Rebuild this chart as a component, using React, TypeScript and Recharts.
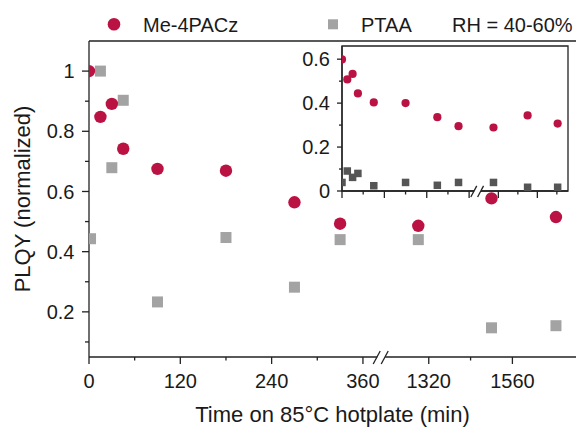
import React from "react";
import {
  CartesianGrid,
  ReferenceArea,
  ReferenceLine,
  Scatter,
  ScatterChart,
  XAxis,
  YAxis,
} from "recharts";

// time on hotplate (min), same sampling for both films
const timeMin = [0, 15, 30, 45, 90, 180, 270, 330, 1290, 1500, 1685];
const ptaaTimeMin = [2, 15, 30, 45, 90, 180, 270, 330, 1290, 1500, 1685];

// main plot: normalized PLQY
const mePlqyNorm = [1.0, 0.848, 0.891, 0.742, 0.675, 0.669, 0.564, 0.493, 0.486, 0.577, 0.515];
const ptaaPlqyNorm = [0.443, 1.0, 0.679, 0.903, 0.233, 0.447, 0.282, 0.44, 0.44, 0.147, 0.154];

// inset: absolute PLQY
const mePlqyAbs = [0.599, 0.508, 0.533, 0.444, 0.403, 0.4, 0.336, 0.295, 0.289, 0.344, 0.307];
const ptaaPlqyAbs = [0.039, 0.091, 0.062, 0.08, 0.024, 0.039, 0.026, 0.039, 0.039, 0.017, 0.017];

const xMajorTicks = [0, 120, 240, 360, 1320, 1560];
const xMinorTicks = [60, 180, 300, 1440];
const insetXMinorTicks = [60, 180, 300, 1440, 1680];
const yMajorTicks = [0.2, 0.4, 0.6, 0.8, 1];
const yMinorTicks = [0.1, 0.3, 0.5, 0.7, 0.9];
const insetYMajorTicks = [0, 0.2, 0.4, 0.6];
const insetYMinorTicks = [0.1, 0.3, 0.5];

const WINE = "#BA1343";
const GREY = "#A3A3A3";
const DARK_GREY = "#555555";
const INK = "#1a1a1a";
const AXIS = "#222222";
const FONT = "'Liberation Sans', Arial, sans-serif";

// broken time axis: 0..384 min at full scale, then 1320+ compressed
type Break = { at: number; start: number; scale: number };
const MAIN_BREAK: Break = { at: 384, start: 446.5, scale: 0.458 };
const INSET_BREAK: Break = { at: 384, start: 442.8, scale: 0.46 };

const toAxis = (b: Break, t: number) => (t <= b.at ? t : b.start + (t - 1320) * b.scale);
const fromAxis = (b: Break, v: number) =>
  v <= b.at + 0.5 ? Math.round(v) : Math.round(1320 + (v - b.start) / b.scale);

const xTicks = (b: Break, minor: number[]) =>
  [...xMajorTicks, ...minor].map((t) => toAxis(b, t)).concat(b.at).sort((p, q) => p - q);

const toPoints = (b: Break, times: number[], values: number[]) =>
  times.map((t, i) => ({ x: toAxis(b, t), y: values[i] }));

const isIn = (list: number[], v: number) => list.some((m) => Math.abs(m - v) < 1e-6);

const makeXTick =
  (b: Break, majorLen: number, minorLen: number, withLabels: boolean, s: number) => (props: any) => {
    const { x, y, payload } = props;
    const v = payload.value as number;
    if (Math.abs(v - b.at) < 1e-6) {
      return (
        <g>
          <rect x={x - 4 * s} y={y - 2} width={8 * s} height={4} fill="#fff" />
          <line x1={x - 8 * s} y1={y + 7 * s} x2={x - 1 * s} y2={y - 6 * s} stroke={AXIS} strokeWidth={1.3} />
          <line x1={x} y1={y + 7 * s} x2={x + 7 * s} y2={y - 6 * s} stroke={AXIS} strokeWidth={1.3} />
        </g>
      );
    }
    const t = fromAxis(b, v);
    const major = isIn(xMajorTicks, t);
    return (
      <g>
        <line x1={x} x2={x} y1={y} y2={y + (major ? majorLen : minorLen)} stroke={AXIS} strokeWidth={1.3} />
        {withLabels && major && (
          <text x={x} y={y + 31} textAnchor="middle" fontSize={20} fill={INK} fontFamily={FONT}>
            {t}
          </text>
        )}
      </g>
    );
  };

const makeYTick =
  (majors: number[], majorLen: number, minorLen: number, gap: number) => (props: any) => {
    const { x, y, payload } = props;
    const major = isIn(majors, payload.value);
    return (
      <g>
        <line x1={x} x2={x - (major ? majorLen : minorLen)} y1={y} y2={y} stroke={AXIS} strokeWidth={1.3} />
        {major && (
          <text x={x - gap} y={y} dy="0.36em" textAnchor="end" fontSize={20} fill={INK} fontFamily={FONT}>
            {String(payload.value)}
          </text>
        )}
      </g>
    );
  };

const wineDot = (r: number) => (p: any) => <circle cx={p.cx} cy={p.cy} r={r} fill={WINE} />;
const square = (size: number, color: string) => (p: any) =>
  <rect x={p.cx - size / 2} y={p.cy - size / 2} width={size} height={size} fill={color} />;

function YTitle(props: any) {
  const vb = props.viewBox ?? { x: 29, y: 41, width: 60, height: 316 };
  const cx = vb.x + 1;
  const cy = vb.y + vb.height / 2;
  return (
    <text x={cx} y={cy} transform={`rotate(-90, ${cx}, ${cy})`} textAnchor="middle" fontSize={22} fill={INK} fontFamily={FONT}>
      PLQY (normalized)
    </text>
  );
}

function XTitle(props: any) {
  const vb = props.viewBox ?? { x: 89, y: 357, width: 487, height: 30 };
  return (
    <text x={vb.x + vb.width / 2} y={vb.y + 64.7} textAnchor="middle" fontSize={22} fill={INK} fontFamily={FONT}>
      Time on 85°C hotplate (min)
    </text>
  );
}

function LegendRow() {
  return (
    <svg width={576} height={40} style={{ position: "absolute", left: 0, top: 0, pointerEvents: "none" }}>
      <circle cx={114} cy={24.3} r={6.3} fill={WINE} />
      <text x={143} y={31.7} fontSize={20} fill={INK} fontFamily={FONT}>Me-4PACz</text>
      <rect x={328} y={19.3} width={10} height={10} fill={GREY} />
      <text x={361} y={31.7} fontSize={20} fill={INK} fontFamily={FONT}>PTAA</text>
      <text x={452} y={31.7} fontSize={20} fill={INK} fontFamily={FONT}>RH = 40-60%</text>
    </svg>
  );
}

function Inset() {
  return (
    <div style={{ position: "absolute", left: 300, top: 40 }}>
      <ScatterChart width={272} height={164} margin={{ top: 6, right: 4, bottom: 3, left: 0 }}>
        <CartesianGrid horizontal={false} vertical={false} fill="#fff" />
        <XAxis
          type="number"
          dataKey="x"
          domain={[0, 640]}
          allowDataOverflow
          ticks={xTicks(INSET_BREAK, insetXMinorTicks)}
          interval={0}
          height={10}
          tickLine={false}
          tickSize={0}
          tickMargin={0}
          axisLine={{ stroke: AXIS, strokeWidth: 1.3 }}
          tick={makeXTick(INSET_BREAK, 7, 3.5, false, 0.85)}
        />
        <YAxis
          type="number"
          dataKey="y"
          domain={[0, 0.66]}
          ticks={[...insetYMajorTicks, ...insetYMinorTicks]}
          interval={0}
          width={42}
          tickLine={false}
          tickSize={0}
          tickMargin={0}
          axisLine={{ stroke: AXIS, strokeWidth: 1.3 }}
          tick={makeYTick(insetYMajorTicks, 5, 3, 12)}
        />
        <ReferenceArea x1={0} x2={640} y1={0} y2={0.66} fill="none" stroke={AXIS} strokeWidth={1.3} />
        <Scatter data={toPoints(INSET_BREAK, timeMin, ptaaPlqyAbs)} shape={square(7.5, DARK_GREY)} isAnimationActive={false} />
        <Scatter data={toPoints(INSET_BREAK, timeMin, mePlqyAbs)} shape={wineDot(4.1)} isAnimationActive={false} />
      </ScatterChart>
    </div>
  );
}

export default function App() {
  return (
    <div style={{ position: "absolute", left: 0, top: 0, width: 576, height: 428, background: "#fff", fontFamily: FONT }}>
      <ScatterChart width={576} height={428} margin={{ top: 41, right: 0, bottom: 41, left: 29 }}>
        <XAxis
          type="number"
          dataKey="x"
          domain={[0, 640]}
          allowDataOverflow
          ticks={xTicks(MAIN_BREAK, xMinorTicks)}
          interval={0}
          height={30}
          tickLine={false}
          tickSize={0}
          tickMargin={0}
          axisLine={{ stroke: AXIS, strokeWidth: 1.3 }}
          tick={makeXTick(MAIN_BREAK, 7, 3.5, true, 1)}
          label={(p: any) => <XTitle {...p} />}
        />
        <YAxis
          type="number"
          dataKey="y"
          domain={[0.05, 1.1]}
          ticks={[...yMajorTicks, ...yMinorTicks]}
          interval={0}
          width={60}
          tickLine={false}
          tickSize={0}
          tickMargin={0}
          axisLine={{ stroke: AXIS, strokeWidth: 1.3 }}
          tick={makeYTick(yMajorTicks, 7, 4, 14.5)}
          label={(p: any) => <YTitle {...p} />}
        />
        <ReferenceLine y={1.1} stroke={AXIS} strokeWidth={1.3} />
        <Scatter data={toPoints(MAIN_BREAK, ptaaTimeMin, ptaaPlqyNorm)} shape={square(11, GREY)} isAnimationActive={false} />
        <Scatter data={toPoints(MAIN_BREAK, timeMin, mePlqyNorm)} shape={wineDot(6.2)} isAnimationActive={false} />
      </ScatterChart>
      <Inset />
      <LegendRow />
    </div>
  );
}
